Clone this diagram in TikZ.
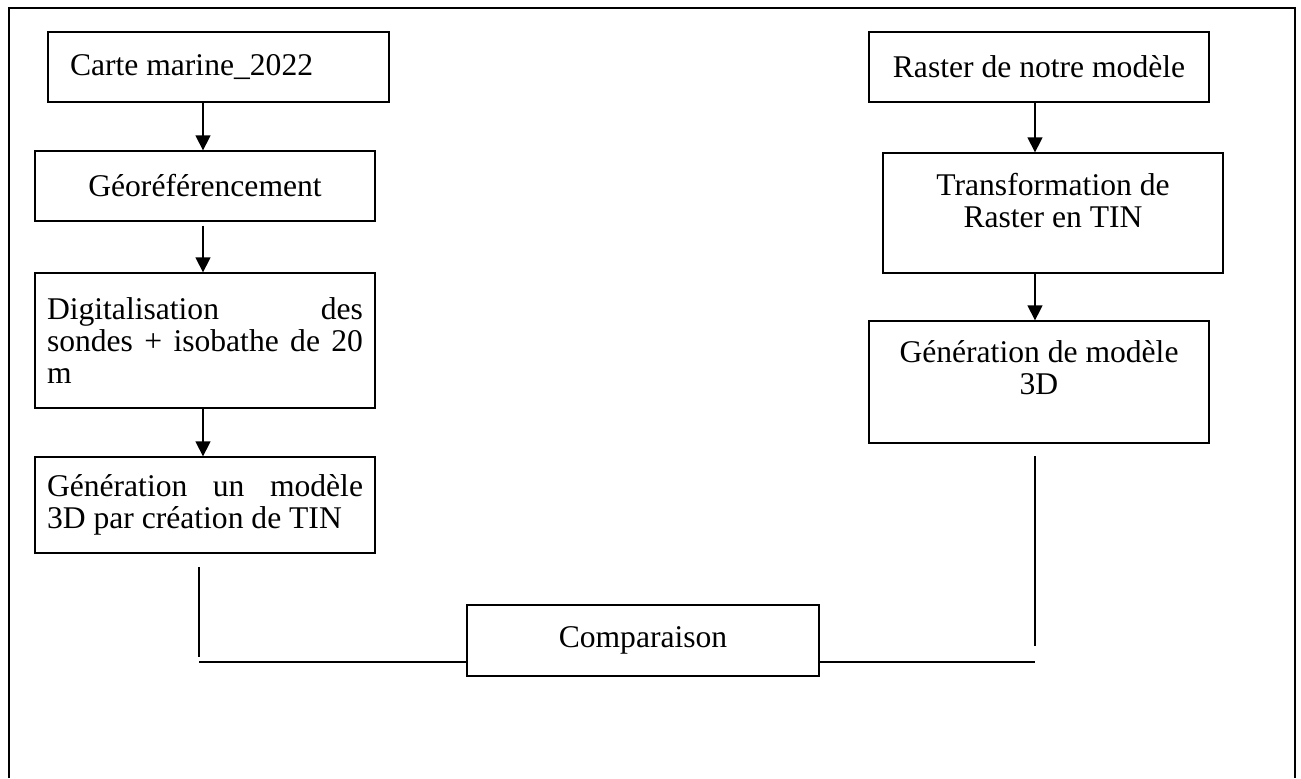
\documentclass[tikz,border=0pt]{standalone}
\usepackage{fontspec}
\setmainfont{Liberation Serif}
\usetikzlibrary{arrows.meta, positioning, calc}

\begin{document}
\begin{tikzpicture}[
    x=0.5pt, y=-0.5pt,
    box/.style={draw, line width=0.65pt, inner sep=0pt, minimum width=#1,
        font=\fontsize{15.8pt}{16pt}\selectfont},
    box/.default=170pt,
    arr/.style={-{Triangle[length=7.5pt, width=7.5pt]}, line width=0.65pt},
    link/.style={line width=0.75pt},
]
\useasboundingbox (0,0) rectangle (1301,778);

% Outer frame, open at the bottom
\draw[line width=1.1pt] (9,778) -- (9,8) -- (1295,8) -- (1295,778);

% Left column
\node[box, minimum height=35pt, text width=148.5pt, inner xsep=11pt, align=flush left] (carte) at (218.5,67) {Carte marine\_2022};
\node[box, minimum height=35pt] (georef) at (205,186) {Géoréférencement};
\node[box, minimum height=67.5pt, text width=158pt, inner xsep=6pt, align=justify] (digit) at (205,340.5) {\rightskip=10pt Digitalisation des\linebreak sondes + isobathe de 20\linebreak m};
\node[box, minimum height=48pt, text width=158pt, inner xsep=6pt, align=justify] (genleft) at (205,505) {\rightskip=10pt Génération un modèle\linebreak 3D par création de TIN};

% Right column
\node[box, minimum height=35pt] (raster) at (1039,67) {Raster de notre modèle};
\node[box, minimum height=60pt, text width=170pt, align=flush center, text height=11pt, text depth=29pt] (transf) at (1053,213) {Transformation de\\Raster en TIN};
\node[box, minimum height=61pt, text width=170pt, align=flush center, text height=11pt, text depth=31pt] (genright) at (1039,382) {Génération de modèle\\3D};

% Comparison
\node[box=176pt, minimum height=35.5pt] (comp) at (643,640.5) {Comparaison};

% Arrows
\coordinate (lcol) at (203,0);
\coordinate (rcol) at (1035,0);
\draw[arr] (carte.south -| lcol) -- (georef.north -| lcol);
\draw[arr, shorten <=2pt] (georef.south -| lcol) -- (digit.north -| lcol);
\draw[arr] (digit.south -| lcol) -- (genleft.north -| lcol);
\draw[arr] (raster.south -| rcol) -- (transf.north -| rcol);
\draw[arr] (transf.south -| rcol) -- (genright.north -| rcol);

% Links to the comparison
\coordinate (ltop) at (199,567);
\coordinate (lbot) at (199,657);
\coordinate (lfoot) at (199,662);
\coordinate (rtop) at (1035,456);
\coordinate (rbot) at (1035,646);
\coordinate (rfoot) at (1035,662);
\draw[link] (ltop) -- (lbot);
\draw[link] (lfoot) -- (comp.west |- lfoot);
\draw[link] (rtop) -- (rbot);
\draw[link] (comp.east |- rfoot) -- (rfoot);

\end{tikzpicture}
\end{document}
